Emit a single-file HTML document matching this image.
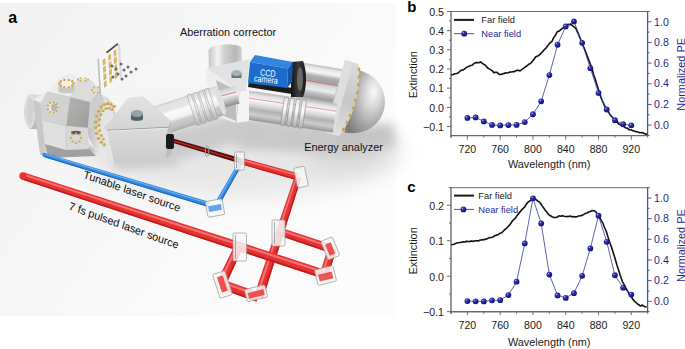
<!DOCTYPE html>
<html><head><meta charset="utf-8"><style>
html,body{margin:0;padding:0;background:#fff;}
body{width:685px;height:349px;overflow:hidden;position:relative;font-family:"Liberation Sans",sans-serif;}
svg{position:absolute;left:0;top:0;}
.tl{font-size:10.6px;fill:#1a1a1a;}
.tr{font-size:10.6px;fill:#1f1f8f;}
.al{font-size:10.9px;fill:#1a1a1a;}
.lg{font-size:9.3px;fill:#1a1a1a;}
.pl{font-size:15px;font-weight:bold;fill:#000;}
</style></head><body>
<svg width="685" height="349" viewBox="0 0 685 349">
<defs>
<radialGradient id="gm" cx="0.35" cy="0.32" r="0.75">
<stop offset="0" stop-color="#d0d0f4"/><stop offset="0.22" stop-color="#3a3ab4"/><stop offset="0.6" stop-color="#1e1e98"/><stop offset="1" stop-color="#101068"/>
</radialGradient>
<g id="mk"><circle r="2.9" fill="url(#gm)"/></g>
</defs>
<defs>
<linearGradient id="bg" x1="0" y1="0" x2="1" y2="0.6">
 <stop offset="0" stop-color="#f2f2f2"/><stop offset="0.45" stop-color="#f6f6f6"/><stop offset="0.75" stop-color="#fafafa"/><stop offset="1" stop-color="#fcfcfc"/>
</linearGradient>
<filter id="blur4" x="-50%" y="-50%" width="200%" height="200%"><feGaussianBlur stdDeviation="5"/></filter>
<filter id="blur2" x="-50%" y="-50%" width="200%" height="200%"><feGaussianBlur stdDeviation="2"/></filter>
<filter id="blur1" x="-50%" y="-50%" width="200%" height="200%"><feGaussianBlur stdDeviation="0.7"/></filter>
<linearGradient id="tubeA" x1="0.42" y1="0" x2="0.58" y2="1">
 <stop offset="0" stop-color="#cfcfcf"/><stop offset="0.18" stop-color="#f4f4f4"/><stop offset="0.4" stop-color="#fbfbfb"/><stop offset="0.62" stop-color="#c9c9c9"/><stop offset="0.82" stop-color="#a9a9a9"/><stop offset="1" stop-color="#8a8a8a"/>
</linearGradient>
<linearGradient id="tubeB" x1="0" y1="0" x2="0.12" y2="1">
 <stop offset="0" stop-color="#dcdcdc"/><stop offset="0.2" stop-color="#f6f6f6"/><stop offset="0.42" stop-color="#c2c2c2"/><stop offset="0.6" stop-color="#e8e8e8"/><stop offset="0.85" stop-color="#b0b0b0"/><stop offset="1" stop-color="#8c8c8c"/>
</linearGradient>
<linearGradient id="body" x1="0" y1="0" x2="0" y2="1">
 <stop offset="0" stop-color="#bcbcbc"/><stop offset="0.05" stop-color="#e6e6e6"/><stop offset="0.12" stop-color="#f6f6f6"/><stop offset="0.19" stop-color="#b0b0b0"/><stop offset="0.26" stop-color="#a2a2a2"/><stop offset="0.33" stop-color="#d6d6d6"/><stop offset="0.42" stop-color="#ececec"/><stop offset="0.47" stop-color="#c4c4c4"/><stop offset="0.56" stop-color="#9c9c9c"/><stop offset="0.66" stop-color="#e6e6e6"/><stop offset="0.74" stop-color="#f0f0f0"/><stop offset="0.82" stop-color="#bdbdbd"/><stop offset="0.92" stop-color="#a8a8a8"/><stop offset="1" stop-color="#969696"/>
</linearGradient>
<radialGradient id="dome" cx="0.62" cy="0.3" r="0.8">
 <stop offset="0" stop-color="#fafafa"/><stop offset="0.3" stop-color="#d8d8d8"/><stop offset="0.65" stop-color="#a8a8a8"/><stop offset="1" stop-color="#7c7c7c"/>
</radialGradient>
<linearGradient id="flange" x1="0" y1="0" x2="0" y2="1">
 <stop offset="0" stop-color="#dcdcdc"/><stop offset="0.5" stop-color="#c6c6c6"/><stop offset="1" stop-color="#e0e0e0"/>
</linearGradient>
<linearGradient id="vcyl" x1="0" y1="0" x2="1" y2="0">
 <stop offset="0" stop-color="#c4c4c4"/><stop offset="0.28" stop-color="#f4f4f4"/><stop offset="0.45" stop-color="#d2d2d2"/><stop offset="0.8" stop-color="#b8b8b8"/><stop offset="1" stop-color="#d0d0d0"/>
</linearGradient>
<linearGradient id="stub" x1="0" y1="0" x2="0" y2="1">
 <stop offset="0" stop-color="#dcdcdc"/><stop offset="0.45" stop-color="#cfcfcf"/><stop offset="1" stop-color="#b4b4b4"/>
</linearGradient>
<linearGradient id="ccdF" x1="0" y1="0" x2="0" y2="1">
 <stop offset="0" stop-color="#2d7fd8"/><stop offset="1" stop-color="#1b66bc"/>
</linearGradient>
<linearGradient id="ring" x1="0" y1="0" x2="1" y2="0">
 <stop offset="0" stop-color="#141414"/><stop offset="0.5" stop-color="#3c3c3c"/><stop offset="1" stop-color="#181818"/>
</linearGradient>
<linearGradient id="chC" x1="0" y1="0" x2="1" y2="1">
 <stop offset="0" stop-color="#b4b4b4"/><stop offset="1" stop-color="#9c9c9c"/>
</linearGradient>
<linearGradient id="ringG" x1="0" y1="0" x2="1" y2="0">
 <stop offset="0" stop-color="#b8b8b8"/><stop offset="0.5" stop-color="#e6e6e6"/><stop offset="1" stop-color="#c8c8c8"/>
</linearGradient>
<linearGradient id="blkF" x1="0" y1="0" x2="0" y2="1">
 <stop offset="0" stop-color="#dcdcdc"/><stop offset="1" stop-color="#cbcbcb"/>
</linearGradient>
<linearGradient id="blkT" x1="0" y1="0" x2="0" y2="1">
 <stop offset="0" stop-color="#e2e2e2"/><stop offset="1" stop-color="#d4d4d4"/>
</linearGradient>
<linearGradient id="tubeV" x1="0" y1="0" x2="0" y2="1">
 <stop offset="0" stop-color="#b8b8b8"/><stop offset="0.12" stop-color="#e2e2e2"/><stop offset="0.3" stop-color="#f8f8f8"/><stop offset="0.48" stop-color="#d6d6d6"/><stop offset="0.62" stop-color="#b2b2b2"/><stop offset="0.8" stop-color="#cdcdcd"/><stop offset="1" stop-color="#969696"/>
</linearGradient>
<linearGradient id="ribG" x1="0" y1="0" x2="0" y2="1">
 <stop offset="0" stop-color="#e8e8e8"/><stop offset="0.4" stop-color="#fcfcfc"/><stop offset="0.7" stop-color="#d0d0d0"/><stop offset="1" stop-color="#b0b0b0"/>
</linearGradient>
<linearGradient id="tubeW" x1="0" y1="0" x2="0" y2="1">
 <stop offset="0" stop-color="#cdcdcd"/><stop offset="0.08" stop-color="#e2e2e2"/><stop offset="0.28" stop-color="#e6e6e6"/><stop offset="0.36" stop-color="#fafafa"/><stop offset="0.6" stop-color="#f2f2f2"/><stop offset="0.7" stop-color="#cbcbcb"/><stop offset="0.86" stop-color="#c2c2c2"/><stop offset="1" stop-color="#acacac"/>
</linearGradient>
<linearGradient id="ribW" x1="0" y1="0" x2="0" y2="1">
 <stop offset="0" stop-color="#d8d8d8"/><stop offset="0.3" stop-color="#fafafa"/><stop offset="0.65" stop-color="#dcdcdc"/><stop offset="1" stop-color="#b4b4b4"/>
</linearGradient>
<linearGradient id="tubeD" x1="0" y1="0" x2="0" y2="1">
 <stop offset="0" stop-color="#d0d0d0"/><stop offset="0.4" stop-color="#f0f0f0"/><stop offset="1" stop-color="#8e8e8e"/>
</linearGradient>
</defs>
<rect x="0" y="3" width="396" height="313" fill="url(#bg)"/>

<!-- floor shadows -->
<filter id="blur10" x="-50%" y="-50%" width="200%" height="200%"><feGaussianBlur stdDeviation="12"/></filter>
<g filter="url(#blur10)">
 <ellipse cx="240" cy="150" rx="160" ry="45" fill="#e6e6e6"/>
 <ellipse cx="350" cy="150" rx="45" ry="22" fill="#d6d6d6"/>
</g>
<g filter="url(#blur4)">
 <polygon points="230,116 300,124 350,128 392,124 396,146 350,154 300,152 236,148" fill="#c8c8c8"/>
 <polygon points="160,132 232,116 244,140 200,154 168,162" fill="#cbcbcb"/>
 <polygon points="108,156 170,150 178,166 118,170" fill="#cccccc"/>
 <polygon points="330,126 385,126 390,140 340,146" fill="#c4c4c4"/>
</g>
<g filter="url(#blur2)">
 <polygon points="46,141 90,147 98,152 50,153" fill="#a4a4a4"/>
</g>

<!-- energy analyzer dome -->
<g transform="rotate(10 356 102)">
<path d="M350,70 C371,70 385,85 385,102 C385,120 371,134 350,134 Z" fill="url(#dome)"/>
</g>
<!-- analyzer body -->
<g transform="translate(297,91) rotate(9.5)">
 <rect x="0" y="-29" width="48" height="59" fill="url(#body)"/>
 <line x1="4" y1="-12" x2="48" y2="-12" stroke="#d04848" stroke-width="0.7" opacity="0.8"/>
 <line x1="4" y1="18" x2="48" y2="18" stroke="#d04848" stroke-width="0.7" opacity="0.8"/>
</g>
<!-- flange -->
<g transform="rotate(15 345 99) translate(-2,0)">
 <ellipse cx="347" cy="99" rx="11" ry="37.5" fill="#c6c6c6"/>
 <path d="M337,61.5 L351,61.5 C356,75 358,88 358,99 C358,110 356,123 351,136.5 L337,136.5 Z" fill="url(#flange)"/>
 <rect x="337" y="61.5" width="8" height="75" fill="#dedede"/>
 <g fill="#d0a33a">
 <rect x="351.5" y="65" width="2.4" height="3.2"/><rect x="353.5" y="72.5" width="2.4" height="3.2"/><rect x="355" y="80" width="2.4" height="3.2"/>
 <rect x="356" y="88" width="2.4" height="3.2"/><rect x="356.3" y="96" width="2.4" height="3.2"/><rect x="356" y="104" width="2.4" height="3.2"/>
 <rect x="355" y="112" width="2.4" height="3.2"/><rect x="353.8" y="119.5" width="2.4" height="3.2"/><rect x="352" y="127" width="2.4" height="3.2"/>
 </g>
</g>

<!-- lower tube from corrector to analyzer -->
<g transform="translate(244,104.5) rotate(8.5)">
 <rect x="0" y="-14.5" width="92" height="29" fill="url(#tubeV)"/>
 <line x1="4" y1="-7" x2="92" y2="-7" stroke="#d04848" stroke-width="0.6" opacity="0.8"/>
 <g fill="url(#ribG)" stroke="#8a8a8a" stroke-width="0.6">
  <rect x="39" y="-13" width="4.2" height="28" rx="0.8"/><rect x="45" y="-13" width="4.2" height="28" rx="0.8"/>
  <rect x="51" y="-13" width="4.2" height="28" rx="0.8"/><rect x="57" y="-13" width="4.2" height="28" rx="0.8"/>
 </g>
</g>

<!-- black rod + ring -->
<polygon points="249,81 299,89 298,95 248,87" fill="#1c1c1c"/>
<path d="M291,62 L303,61 C307,70 307,88 303,97 L291,97 Z" fill="url(#ring)"/>
<ellipse cx="300" cy="79" rx="3" ry="12" fill="#6a6a6a"/>

<!-- CCD camera -->
<polygon points="255,55 293,62 288,68.5 250,62" fill="#3286de"/>
<polygon points="250,62 288,68.5 287,88 248,83" fill="#1c6ccb"/>
<polygon points="288,68.5 293,62 292,82 287,88" fill="#1756a6"/>
<g fill="#fff" style="font-size:7.2px" text-anchor="middle">
 <text transform="translate(267.5,76.3) rotate(6.5) scale(1,1.3)">CCD</text>
 <text transform="translate(265.6,82.6) rotate(6.5) scale(1,1.3)">camera</text>
</g>

<!-- aberration corrector: vertical cylinder -->
<path d="M208.5,50 C209,44 240,42 241.5,48 L242,70 L209,72 Z" fill="url(#vcyl)"/>

<!-- corrector block -->
<polygon points="207,68 250,59 246,91 239,92" fill="#e2e2e2"/>
<polygon points="207,68 239,92 236,123 222,118 210,96 205,76" fill="#eeeeee"/>
<polygon points="239,92 246,91 249,88 249,121 236,123" fill="#f4f4f4"/>
<line x1="239" y1="92" x2="236" y2="123" stroke="#c8c8c8" stroke-width="0.8"/>
<!-- cap -->
<rect x="231.5" y="73" width="10" height="5" fill="#6a787e"/>
<ellipse cx="236.5" cy="73" rx="5" ry="3" fill="#a6b2b8"/>

<!-- tube block -> corrector -->
<polygon points="216,80 236,90 236,121 224,116" fill="#bdbdbd"/>
<g transform="translate(214,101) rotate(-15)">
 <rect x="0" y="-9" width="24" height="18" fill="url(#tubeD)"/>
 <line x1="0" y1="-3" x2="24" y2="-3" stroke="#c84848" stroke-width="0.6"/>
</g>
<g transform="translate(150,123.5) rotate(-18)">
 <rect x="0" y="-15" width="74" height="30" fill="url(#tubeW)"/>
 <ellipse cx="74" cy="0" rx="3" ry="15" fill="#e0e0e0"/>
 <g fill="url(#ribW)" stroke="#a0a0a0" stroke-width="0.5">
  <rect x="44" y="-15.5" width="4.2" height="32"/><rect x="50" y="-15.5" width="4.2" height="32"/>
  <rect x="56" y="-15.5" width="4.2" height="32"/><rect x="62" y="-15.5" width="4.2" height="32"/>
 </g>
</g>

<!-- ring between chamber and block -->
<ellipse cx="101" cy="122" rx="15" ry="27" fill="url(#ringG)"/>
<ellipse cx="106" cy="123" rx="9" ry="19" fill="#e4e4e4"/>

<!-- left cylinder stub & plate -->
<path d="M42,95 L31,94 C22,97 22,126 31,129 L42,129 Z" fill="url(#stub)"/>
<ellipse cx="30" cy="111.5" rx="5.5" ry="17" fill="#dedede"/>
<ellipse cx="30" cy="111.5" rx="3.5" ry="14" fill="#d2d2d2"/>
<polygon points="33,100 45,92.5 49,94.5 41,103" fill="#ececec"/>
<polygon points="33,100 41,103 46,155 40,155" fill="#c8c8c8"/>
<polygon points="41,103 49,94.5 49,150 46,155" fill="#dcdcdc"/>

<!-- chamber -->
<polygon points="45,144 66,150 89,149 96,156 48,158" fill="#a0a0a0"/>
<polygon points="47,92 60,77 70,73 78,78 70,97" fill="#ededed"/>
<polygon points="70,97 78,78 91,80 100,90 90,102" fill="#dcdcdc"/>
<polygon points="40,104 47,92 70,97 66,126 42,120" fill="#d2d2d2"/>
<polygon points="70,97 90,102 88,128 66,126" fill="url(#chC)"/>
<polygon points="90,102 100,90 104,100 99,127 88,128" fill="#cdcdcd"/>
<polygon points="42,120 66,126 66,150 45,144" fill="#e0e0e0"/>
<polygon points="66,126 88,128 89,149 66,150" fill="#d8d8d8"/>
<g stroke="#c4c4c4" stroke-width="0.6" fill="none">
 <polyline points="47,92 70,97 90,102"/><polyline points="42,120 66,126 88,128"/><line x1="70" y1="97" x2="66" y2="126"/><line x1="66" y1="126" x2="66" y2="150"/>
</g>
<!-- ports -->
<path d="M58.5,83.5 L58.5,91 C58.5,94 74.5,94 74.5,91 L74.5,83.5 Z" fill="#c8c8c8"/>
<ellipse cx="66.5" cy="83.5" rx="8" ry="4.5" fill="#f0f0f0"/>
<g fill="#d3a53c"><circle cx="73.5" cy="83.5" r="1.2"/><circle cx="72.2" cy="85.7" r="1.2"/><circle cx="68.7" cy="87.1" r="1.2"/><circle cx="64.3" cy="87.1" r="1.2"/><circle cx="60.8" cy="85.7" r="1.2"/><circle cx="59.5" cy="83.5" r="1.2"/><circle cx="60.8" cy="81.3" r="1.2"/><circle cx="64.3" cy="79.9" r="1.2"/><circle cx="68.7" cy="79.9" r="1.2"/><circle cx="72.2" cy="81.3" r="1.2"/></g>
<g fill="#d3a53c"><circle cx="88.0" cy="79.5" r="0.9"/><circle cx="85.5" cy="80.9" r="0.9"/><circle cx="80.5" cy="80.9" r="0.9"/><circle cx="78.0" cy="79.5" r="0.9"/><circle cx="80.5" cy="78.1" r="0.9"/><circle cx="85.5" cy="78.1" r="0.9"/><circle cx="100.0" cy="90.0" r="0.9"/><circle cx="98.0" cy="92.6" r="0.9"/><circle cx="94.0" cy="92.6" r="0.9"/><circle cx="92.0" cy="90.0" r="0.9"/><circle cx="94.0" cy="87.4" r="0.9"/><circle cx="98.0" cy="87.4" r="0.9"/></g>
<ellipse cx="52.7" cy="107.5" rx="5.8" ry="6" fill="#e6e6e6"/>
<ellipse cx="54" cy="107.5" rx="3" ry="4" fill="#b8b8b8"/>
<g fill="#d3a53c"><circle cx="57.7" cy="107.5" r="1.1"/><circle cx="56.5" cy="110.8" r="1.1"/><circle cx="53.6" cy="112.6" r="1.1"/><circle cx="50.2" cy="112.0" r="1.1"/><circle cx="48.0" cy="109.3" r="1.1"/><circle cx="48.0" cy="105.7" r="1.1"/><circle cx="50.2" cy="103.0" r="1.1"/><circle cx="53.6" cy="102.4" r="1.1"/><circle cx="56.5" cy="104.2" r="1.1"/></g>
<g fill="#c7a558" opacity="0.75"><circle cx="81.3" cy="115.5" r="0.9"/><circle cx="79.5" cy="119.3" r="0.9"/><circle cx="75.4" cy="120.2" r="0.9"/><circle cx="72.2" cy="117.6" r="0.9"/><circle cx="72.2" cy="113.4" r="0.9"/><circle cx="75.4" cy="110.8" r="0.9"/><circle cx="79.5" cy="111.7" r="0.9"/></g>
<ellipse cx="76" cy="132.5" rx="5" ry="1.8" fill="#555"/>
<g fill="#d3a53c"><circle cx="81.0" cy="138.0" r="1.1"/><circle cx="79.5" cy="141.5" r="1.1"/><circle cx="76.0" cy="143.0" r="1.1"/><circle cx="72.5" cy="141.5" r="1.1"/><circle cx="71.0" cy="138.0" r="1.1"/><circle cx="72.5" cy="134.5" r="1.1"/><circle cx="76.0" cy="133.0" r="1.1"/><circle cx="79.5" cy="134.5" r="1.1"/></g>
<!-- gold pins on ring -->
<g fill="#c89a3a"><ellipse cx="111.2" cy="144.8" rx="1.72" ry="1.50"/><ellipse cx="107.8" cy="145.5" rx="1.72" ry="1.50"/><ellipse cx="104.3" cy="144.6" rx="1.72" ry="1.50"/><ellipse cx="101.2" cy="142.1" rx="1.72" ry="1.50"/><ellipse cx="98.5" cy="138.2" rx="1.72" ry="1.50"/><ellipse cx="96.6" cy="133.3" rx="1.72" ry="1.50"/><ellipse cx="95.6" cy="127.6" rx="1.72" ry="1.50"/><ellipse cx="95.6" cy="121.8" rx="1.72" ry="1.50"/><ellipse cx="96.5" cy="116.1" rx="1.72" ry="1.50"/><ellipse cx="98.4" cy="111.1" rx="1.72" ry="1.50"/><ellipse cx="101.0" cy="107.1" rx="1.72" ry="1.50"/><ellipse cx="104.1" cy="104.6" rx="1.72" ry="1.50"/><ellipse cx="107.5" cy="103.5" rx="1.72" ry="1.50"/><ellipse cx="111.0" cy="104.1" rx="1.72" ry="1.50"/><ellipse cx="114.2" cy="106.3" rx="1.72" ry="1.50"/><ellipse cx="109.6" cy="140.7" rx="1.49" ry="1.30"/><ellipse cx="106.5" cy="140.8" rx="1.49" ry="1.30"/><ellipse cx="103.6" cy="138.9" rx="1.49" ry="1.30"/><ellipse cx="101.2" cy="135.4" rx="1.49" ry="1.30"/><ellipse cx="99.6" cy="130.6" rx="1.49" ry="1.30"/><ellipse cx="99.0" cy="125.2" rx="1.49" ry="1.30"/><ellipse cx="99.4" cy="119.6" rx="1.49" ry="1.30"/><ellipse cx="100.8" cy="114.6" rx="1.49" ry="1.30"/><ellipse cx="103.0" cy="110.8" rx="1.49" ry="1.30"/><ellipse cx="105.8" cy="108.5" rx="1.49" ry="1.30"/><ellipse cx="108.9" cy="108.1" rx="1.49" ry="1.30"/><ellipse cx="111.8" cy="109.5" rx="1.49" ry="1.30"/></g>
<g fill="#f2dc9a"><circle cx="110.8" cy="144.3" r="0.60"/><circle cx="107.4" cy="145.0" r="0.60"/><circle cx="103.9" cy="144.1" r="0.60"/><circle cx="100.8" cy="141.6" r="0.60"/><circle cx="98.1" cy="137.7" r="0.60"/><circle cx="96.2" cy="132.8" r="0.60"/><circle cx="95.2" cy="127.1" r="0.60"/><circle cx="95.2" cy="121.3" r="0.60"/><circle cx="96.1" cy="115.6" r="0.60"/><circle cx="98.0" cy="110.6" r="0.60"/><circle cx="100.6" cy="106.6" r="0.60"/><circle cx="103.7" cy="104.1" r="0.60"/><circle cx="107.1" cy="103.0" r="0.60"/><circle cx="110.6" cy="103.6" r="0.60"/><circle cx="113.8" cy="105.8" r="0.60"/><circle cx="109.2" cy="140.2" r="0.52"/><circle cx="106.1" cy="140.3" r="0.52"/><circle cx="103.2" cy="138.4" r="0.52"/><circle cx="100.8" cy="134.9" r="0.52"/><circle cx="99.2" cy="130.1" r="0.52"/><circle cx="98.6" cy="124.7" r="0.52"/><circle cx="99.0" cy="119.1" r="0.52"/><circle cx="100.4" cy="114.1" r="0.52"/><circle cx="102.6" cy="110.3" r="0.52"/><circle cx="105.4" cy="108.0" r="0.52"/><circle cx="108.5" cy="107.6" r="0.52"/><circle cx="111.4" cy="109.0" r="0.52"/></g>

<!-- sample plate -->
<polygon points="99,58 117.5,43 120,77 101,93" fill="#f6f6f6"/>
<polygon points="97.5,59 99,58 101,93 99.5,94" fill="#bdbdbd"/>
<polygon points="117.5,43 120,44 122,78 120,77" fill="#dadada"/>
<polygon points="106,52 117.5,43 118.3,44.5 107,53.5" fill="#4a4a4a"/>
<g fill="#d4b66c"><polygon points="102.5,60.1 105.3,57.9 105.6,63.8 102.8,66.0"/><polygon points="102.9,67.5 105.7,65.2 106.0,71.2 103.3,73.4"/><polygon points="103.3,74.8 106.1,72.5 106.5,78.5 103.7,80.8"/><polygon points="103.8,82.2 106.5,79.9 106.9,85.8 104.1,88.1"/><polygon points="108.1,55.6 110.8,53.4 111.2,59.3 108.4,61.5"/><polygon points="108.5,63.0 111.3,60.7 111.6,66.7 108.8,68.9"/><polygon points="108.9,70.3 111.7,68.0 112.0,74.0 109.2,76.2"/><polygon points="109.3,77.7 112.1,75.4 112.4,81.3 109.7,83.6"/><polygon points="113.4,51.2 116.2,49.0 116.5,54.9 113.8,57.2"/><polygon points="113.8,58.6 116.6,56.3 117.0,62.3 114.2,64.5"/><polygon points="114.3,66.0 117.0,63.7 117.4,69.7 114.6,71.9"/><polygon points="114.7,73.3 117.5,71.0 117.8,77.0 115.0,79.2"/></g>
<g fill="#6a6a6a"><circle cx="112" cy="66" r="1.5"/><circle cx="116" cy="69" r="1.5"/><circle cx="121" cy="64" r="1.5"/><circle cx="124" cy="70" r="1.5"/><circle cx="118" cy="74" r="1.5"/><circle cx="128" cy="67" r="1.5"/><circle cx="131" cy="72" r="1.5"/><circle cx="126" cy="76" r="1.5"/><circle cx="113" cy="77" r="1.5"/><circle cx="136" cy="69" r="1.5"/><circle cx="122" cy="79" r="1.5"/></g>

<!-- middle block -->
<polygon points="104,128 128,98 143,96 171,121 168,127 107,130" fill="url(#blkT)"/>
<polygon points="107,130 168,127 166,158 114,163" fill="url(#blkF)"/>
<polygon points="103,129 107,130 114,163 108,159" fill="#e4e4e4"/>
<polygon points="168,127 171,121 172,154 166,158" fill="#bdbdbd"/>
<line x1="107" y1="130.3" x2="168" y2="127.3" stroke="#8e8e8e" stroke-width="0.8"/><line x1="107" y1="131.3" x2="168" y2="128.3" stroke="#ececec" stroke-width="0.8"/>
<path d="M131,113.5 L131,119 C131,121.5 143,121.5 143,119 L143,113.5 Z" fill="#52606a"/>
<ellipse cx="137" cy="113.5" rx="6" ry="3.6" fill="#94a2a8"/>
<rect x="166" y="134" width="8" height="15" rx="2" fill="#1a1a1a"/>

<!-- lasers -->
<polygon points="44.91,152.89 209.72,202.11 208.28,206.89 43.69,156.91" fill="#348ae2"/>
<polygon points="44.69,153.61 209.46,202.97 209.12,204.12 44.40,154.58" fill="#6fb0f4"/>
<polygon points="43.94,156.11 208.57,205.94 208.28,206.89 43.69,156.91" fill="#2264b4"/>
<circle cx="44.3" cy="154.9" r="2.10" fill="#348ae2"/>
<polygon points="216.83,199.26 238.59,161.91 242.41,164.09 221.17,201.74" fill="#348ae2"/>
<polygon points="217.61,199.70 239.28,162.30 240.19,162.82 218.65,200.30" fill="#6fb0f4"/>
<polygon points="220.30,201.25 241.65,163.66 242.41,164.09 221.17,201.74" fill="#2264b4"/>
<polygon points="174,138.8 241,158.3 241,163.7 174,143.2" fill="#4a1010"/>
<line x1="174" y1="141" x2="241" y2="161" stroke="#c42020" stroke-width="1.4"/>
<polygon points="241.86,157.92 297.91,173.32 296.09,179.88 240.14,164.08" fill="#e63232"/>
<polygon points="241.55,159.03 297.58,174.50 297.15,176.08 241.14,160.51" fill="#f57272"/>
<polygon points="240.48,162.85 296.45,178.57 296.09,179.88 240.14,164.08" fill="#c21d1d"/>
<polygon points="294.77,175.94 254.04,295.53 262.96,298.47 301.23,178.06" fill="#e63232"/>
<polygon points="295.93,176.32 255.64,296.06 257.79,296.76 297.48,176.83" fill="#f57272"/>
<polygon points="299.94,177.64 261.18,297.88 262.96,298.47 301.23,178.06" fill="#c21d1d"/>
<polygon points="24.15,172.48 323.43,269.13 320.57,277.87 21.85,179.52" fill="#e63232"/>
<polygon points="23.73,173.75 322.91,270.70 322.23,272.80 23.18,175.44" fill="#f57272"/>
<polygon points="22.31,178.11 321.14,276.12 320.57,277.87 21.85,179.52" fill="#c21d1d"/>
<circle cx="23" cy="176" r="3.70" fill="#e63232"/>
<polygon points="235.11,244.16 216.75,281.99 225.25,286.01 242.89,247.84" fill="#e63232"/>
<polygon points="236.51,244.82 218.28,282.71 220.32,283.68 238.38,245.71" fill="#f57272"/>
<polygon points="241.33,247.10 223.55,285.21 225.25,286.01 242.89,247.84" fill="#c21d1d"/>
<polygon points="222.56,279.57 259.62,292.38 256.38,301.62 219.44,288.43" fill="#e63232"/>
<polygon points="222.00,281.16 259.04,294.04 258.26,296.26 221.25,283.29" fill="#f57272"/>
<polygon points="220.07,286.66 257.03,299.77 256.38,301.62 219.44,288.43" fill="#c21d1d"/>
<polygon points="279.26,227.21 333.36,244.92 330.64,253.08 276.74,234.79" fill="#e63232"/>
<polygon points="278.81,228.57 332.87,246.39 332.22,248.35 278.20,230.39" fill="#f57272"/>
<polygon points="277.24,233.28 331.18,251.45 330.64,253.08 276.74,234.79" fill="#c21d1d"/>
<polygon points="327.99,247.76 319.79,273.71 328.21,276.29 336.01,250.24" fill="#e63232"/>
<polygon points="329.43,248.21 321.31,274.17 323.33,274.79 331.36,248.80" fill="#f57272"/>
<polygon points="334.41,249.74 326.52,275.78 328.21,276.29 336.01,250.24" fill="#c21d1d"/>
<!-- iris -->
<ellipse cx="207" cy="151" rx="1.8" ry="5.5" fill="none" stroke="#999" stroke-width="1"/>
<!-- mirrors -->
<g fill="#f6f6f6" stroke="#9a9a9a" stroke-width="0.7" fill-opacity="0.85">
 <rect x="234.5" y="152" width="10" height="18" rx="1.5"/>
 <rect x="295.5" y="167" width="11" height="20" rx="1.5" transform="rotate(-12 301 177)"/>
 <rect x="272" y="220" width="13" height="26" rx="1.5"/>
 <rect x="233" y="233" width="13.5" height="28" rx="1.5"/>
 <rect x="206.5" y="200" width="17" height="16" rx="1.5" transform="rotate(-10 215 208)"/>
 <rect x="216" y="272" width="13" height="25" rx="1.5" transform="rotate(-18 222.5 284.5)"/>
 <rect x="245.5" y="287" width="21" height="12.5" rx="1.5" transform="rotate(-14 256 293)"/>
 <rect x="324" y="238.5" width="12.5" height="20" rx="1.5" transform="rotate(-22 330 248.5)"/>
 <rect x="316" y="267.5" width="19" height="16" rx="1.5" transform="rotate(-14 325.5 275.5)"/>
</g>
<g fill="#ea3a3a" opacity="0.85">
 <rect x="219.5" y="276" width="6" height="16" transform="rotate(-18 222.5 284.5)"/>
 <rect x="248" y="291" width="16" height="6" transform="rotate(-14 256 293)"/>
 <rect x="318.5" y="273" width="14" height="7" transform="rotate(-14 325.5 275.5)"/>
 <rect x="327" y="243" width="6" height="12" transform="rotate(-22 330 248.5)"/>
</g>
<rect x="208.5" y="205" width="13" height="6" fill="#4a94e8" opacity="0.85" transform="rotate(-10 215 208)"/>
<g stroke="#777" stroke-width="0.6" fill="none">
 <line x1="236.5" y1="154" x2="236.5" y2="168"/><line x1="274.5" y1="222" x2="274.5" y2="244"/><line x1="235.5" y1="235" x2="235.5" y2="259"/>
</g>

<!-- labels -->
<text x="8.3" y="22.8" style="font-size:16px;font-weight:bold;fill:#000">a</text>
<text x="179.9" y="36" style="font-size:10.9px;fill:#111">Aberration corrector</text>
<text x="304.2" y="151" style="font-size:10.9px;fill:#111">Energy analyzer</text>
<text transform="translate(82.8,177.8) rotate(19.5) skewX(5)" style="font-size:11px;fill:#0a0a0a">Tunable laser source</text>
<text transform="translate(68.3,209.2) rotate(20) skewX(5)" style="font-size:11px;fill:#0a0a0a">7 fs pulsed laser source</text>

<line x1="450.5" y1="11.5" x2="647.6" y2="11.5" stroke="#6a6a6a" stroke-width="1"/>
<line x1="451.0" y1="11.0" x2="451.0" y2="137.6" stroke="#6a6a6a" stroke-width="1.4"/>
<line x1="450.5" y1="135.6" x2="647.6" y2="135.6" stroke="#6a6a6a" stroke-width="1.4"/>
<line x1="647.6" y1="11.0" x2="647.6" y2="136.1" stroke="#5050b0" stroke-width="1.3"/>
<line x1="447.0" y1="11.45" x2="451.0" y2="11.45" stroke="#6a6a6a" stroke-width="1"/>
<text x="444.0" y="15.75" text-anchor="end" class="tl">0.5</text>
<line x1="447.0" y1="30.62" x2="451.0" y2="30.62" stroke="#6a6a6a" stroke-width="1"/>
<text x="444.0" y="34.92" text-anchor="end" class="tl">0.4</text>
<line x1="447.0" y1="49.79" x2="451.0" y2="49.79" stroke="#6a6a6a" stroke-width="1"/>
<text x="444.0" y="54.09" text-anchor="end" class="tl">0.3</text>
<line x1="447.0" y1="68.96" x2="451.0" y2="68.96" stroke="#6a6a6a" stroke-width="1"/>
<text x="444.0" y="73.26" text-anchor="end" class="tl">0.2</text>
<line x1="447.0" y1="88.13" x2="451.0" y2="88.13" stroke="#6a6a6a" stroke-width="1"/>
<text x="444.0" y="92.43" text-anchor="end" class="tl">0.1</text>
<line x1="447.0" y1="107.30" x2="451.0" y2="107.30" stroke="#6a6a6a" stroke-width="1"/>
<text x="444.0" y="111.60" text-anchor="end" class="tl">0.0</text>
<line x1="447.0" y1="126.47" x2="451.0" y2="126.47" stroke="#6a6a6a" stroke-width="1"/>
<text x="444.0" y="130.77" text-anchor="end" class="tl">−0.1</text>
<line x1="449.0" y1="21.03" x2="451.0" y2="21.03" stroke="#6a6a6a" stroke-width="1"/>
<line x1="449.0" y1="40.20" x2="451.0" y2="40.20" stroke="#6a6a6a" stroke-width="1"/>
<line x1="449.0" y1="59.38" x2="451.0" y2="59.38" stroke="#6a6a6a" stroke-width="1"/>
<line x1="449.0" y1="78.55" x2="451.0" y2="78.55" stroke="#6a6a6a" stroke-width="1"/>
<line x1="449.0" y1="97.72" x2="451.0" y2="97.72" stroke="#6a6a6a" stroke-width="1"/>
<line x1="449.0" y1="116.88" x2="451.0" y2="116.88" stroke="#6a6a6a" stroke-width="1"/>
<line x1="451.00" y1="135.6" x2="451.00" y2="137.6" stroke="#6a6a6a" stroke-width="1"/>
<line x1="467.39" y1="135.6" x2="467.39" y2="139.6" stroke="#6a6a6a" stroke-width="1"/>
<text x="467.39" y="152.6" text-anchor="middle" class="tl">720</text>
<line x1="483.78" y1="135.6" x2="483.78" y2="137.6" stroke="#6a6a6a" stroke-width="1"/>
<line x1="500.18" y1="135.6" x2="500.18" y2="139.6" stroke="#6a6a6a" stroke-width="1"/>
<text x="500.18" y="152.6" text-anchor="middle" class="tl">760</text>
<line x1="516.57" y1="135.6" x2="516.57" y2="137.6" stroke="#6a6a6a" stroke-width="1"/>
<line x1="532.96" y1="135.6" x2="532.96" y2="139.6" stroke="#6a6a6a" stroke-width="1"/>
<text x="532.96" y="152.6" text-anchor="middle" class="tl">800</text>
<line x1="549.35" y1="135.6" x2="549.35" y2="137.6" stroke="#6a6a6a" stroke-width="1"/>
<line x1="565.74" y1="135.6" x2="565.74" y2="139.6" stroke="#6a6a6a" stroke-width="1"/>
<text x="565.74" y="152.6" text-anchor="middle" class="tl">840</text>
<line x1="582.14" y1="135.6" x2="582.14" y2="137.6" stroke="#6a6a6a" stroke-width="1"/>
<line x1="598.53" y1="135.6" x2="598.53" y2="139.6" stroke="#6a6a6a" stroke-width="1"/>
<text x="598.53" y="152.6" text-anchor="middle" class="tl">880</text>
<line x1="614.92" y1="135.6" x2="614.92" y2="137.6" stroke="#6a6a6a" stroke-width="1"/>
<line x1="631.31" y1="135.6" x2="631.31" y2="139.6" stroke="#6a6a6a" stroke-width="1"/>
<text x="631.31" y="152.6" text-anchor="middle" class="tl">920</text>
<line x1="647.70" y1="135.6" x2="647.70" y2="137.6" stroke="#6a6a6a" stroke-width="1"/>
<line x1="647.6" y1="135.43" x2="649.6" y2="135.43" stroke="#5050b0" stroke-width="1"/>
<line x1="647.6" y1="125.10" x2="651.6" y2="125.10" stroke="#5050b0" stroke-width="1"/>
<text x="654.1" y="128.80" class="tr">0.0</text>
<line x1="647.6" y1="114.77" x2="649.6" y2="114.77" stroke="#5050b0" stroke-width="1"/>
<line x1="647.6" y1="104.44" x2="651.6" y2="104.44" stroke="#5050b0" stroke-width="1"/>
<text x="654.1" y="108.14" class="tr">0.2</text>
<line x1="647.6" y1="94.11" x2="649.6" y2="94.11" stroke="#5050b0" stroke-width="1"/>
<line x1="647.6" y1="83.78" x2="651.6" y2="83.78" stroke="#5050b0" stroke-width="1"/>
<text x="654.1" y="87.48" class="tr">0.4</text>
<line x1="647.6" y1="73.45" x2="649.6" y2="73.45" stroke="#5050b0" stroke-width="1"/>
<line x1="647.6" y1="63.12" x2="651.6" y2="63.12" stroke="#5050b0" stroke-width="1"/>
<text x="654.1" y="66.82" class="tr">0.6</text>
<line x1="647.6" y1="52.79" x2="649.6" y2="52.79" stroke="#5050b0" stroke-width="1"/>
<line x1="647.6" y1="42.46" x2="651.6" y2="42.46" stroke="#5050b0" stroke-width="1"/>
<text x="654.1" y="46.16" class="tr">0.8</text>
<line x1="647.6" y1="32.13" x2="649.6" y2="32.13" stroke="#5050b0" stroke-width="1"/>
<line x1="647.6" y1="21.80" x2="651.6" y2="21.80" stroke="#5050b0" stroke-width="1"/>
<text x="654.1" y="25.50" class="tr">1.0</text>
<line x1="647.6" y1="11.47" x2="649.6" y2="11.47" stroke="#5050b0" stroke-width="1"/>
<text transform="translate(417.3,74.7) rotate(-90)" text-anchor="middle" class="al">Extinction</text>
<text transform="translate(685.2,74.4) rotate(-90)" text-anchor="middle" class="al" style="fill:#1f1f8f">Normalized PE</text>
<text x="549.2" y="167.8" text-anchor="middle" class="al">Wavelength (nm)</text>
<text x="407.3" y="11.6" class="pl">b</text>
<line x1="454" y1="19.9" x2="474" y2="19.9" stroke="#1a1a1a" stroke-width="2"/>
<text x="481.3" y="22.8" class="lg">Far field</text>
<line x1="454" y1="33.7" x2="474" y2="33.7" stroke="#1f1f8f" stroke-width="0.8"/>
<use href="#mk" x="464.2" y="33.7"/>
<text x="481.3" y="36.6" class="lg" style="fill:#1f1f8f">Near field</text>
<path d="M451.20,74.86 L452.95,74.54 L454.70,73.78 L456.45,73.44 L458.20,72.91 L459.95,71.21 L461.70,69.96 L463.45,69.85 L465.20,68.48 L466.95,67.11 L468.70,66.45 L470.45,65.42 L472.20,65.20 L473.65,63.83 L475.10,62.93 L476.55,62.39 L478.00,62.72 L479.30,62.58 L480.60,61.92 L482.25,63.27 L483.90,64.35 L485.65,65.46 L487.40,67.73 L489.15,68.88 L490.90,69.92 L492.35,70.83 L493.80,72.73 L495.25,72.18 L496.70,72.20 L498.15,73.49 L499.60,74.49 L501.10,74.48 L502.60,73.81 L504.05,73.62 L505.50,72.75 L506.95,72.99 L508.40,72.74 L509.85,72.04 L511.30,72.07 L512.75,71.65 L514.20,71.82 L515.70,70.69 L517.20,70.21 L518.65,70.37 L520.10,71.01 L521.55,69.75 L523.00,68.57 L524.45,67.63 L525.90,66.48 L527.35,65.56 L528.80,64.16 L530.50,63.59 L531.80,61.97 L533.10,60.54 L534.40,58.70 L535.70,56.70 L537.13,56.36 L538.57,55.48 L540.00,54.46 L541.43,52.73 L542.87,51.43 L544.30,49.54 L545.73,48.43 L547.17,46.53 L548.60,44.61 L549.80,42.97 L551.00,42.25 L552.20,40.94 L553.65,37.63 L555.10,35.77 L557.20,31.82 L559.40,30.89 L560.80,29.56 L562.20,28.54 L563.65,27.59 L565.10,25.79 L566.50,25.55 L567.90,24.29 L569.35,24.70 L570.80,24.15 L572.25,25.59 L573.70,26.63 L575.80,28.30 L578.00,33.05 L580.10,38.13 L581.55,41.52 L583.00,45.59 L584.45,48.68 L585.90,52.43 L587.30,56.17 L588.70,59.90 L590.45,64.59 L592.20,69.59 L593.73,75.00 L595.27,79.17 L596.80,84.41 L598.33,89.22 L599.87,93.62 L601.40,98.56 L602.90,101.95 L604.40,105.40 L605.90,108.69 L607.35,110.63 L608.80,112.66 L610.25,114.92 L611.70,116.51 L613.12,117.99 L614.55,119.80 L615.98,120.91 L617.40,122.52 L618.83,124.11 L620.25,124.67 L621.67,125.67 L623.10,126.16 L624.48,127.18 L625.86,127.99 L627.24,128.15 L628.62,129.34 L630.00,130.02 L631.42,129.90 L632.85,130.81 L634.28,131.07 L635.70,131.66 L637.15,131.72 L638.60,132.39 L640.05,132.76 L641.50,132.47 L642.92,132.78 L644.35,133.61 L645.78,134.14 L647.20,134.00" fill="none" stroke="#111" stroke-width="1.6" stroke-linejoin="round"/>
<path d="M467.39,117.97 L475.59,117.46 L483.78,121.38 L491.98,124.89 L500.18,125.41 L508.37,125.10 L516.57,124.89 L524.76,122.10 L532.96,114.25 L541.16,101.34 L549.35,75.10 L557.55,44.73 L565.74,26.45 L573.94,21.39 L582.14,42.87 L590.33,68.18 L598.53,92.97 L606.72,109.50 L614.92,120.24 L623.12,124.17 L631.31,125.31" fill="none" stroke="#3636a6" stroke-width="0.8"/>
<use href="#mk" x="467.39" y="117.97"/>
<use href="#mk" x="475.59" y="117.46"/>
<use href="#mk" x="483.78" y="121.38"/>
<use href="#mk" x="491.98" y="124.89"/>
<use href="#mk" x="500.18" y="125.41"/>
<use href="#mk" x="508.37" y="125.10"/>
<use href="#mk" x="516.57" y="124.89"/>
<use href="#mk" x="524.76" y="122.10"/>
<use href="#mk" x="532.96" y="114.25"/>
<use href="#mk" x="541.16" y="101.34"/>
<use href="#mk" x="549.35" y="75.10"/>
<use href="#mk" x="557.55" y="44.73"/>
<use href="#mk" x="565.74" y="26.45"/>
<use href="#mk" x="573.94" y="21.39"/>
<use href="#mk" x="582.14" y="42.87"/>
<use href="#mk" x="590.33" y="68.18"/>
<use href="#mk" x="598.53" y="92.97"/>
<use href="#mk" x="606.72" y="109.50"/>
<use href="#mk" x="614.92" y="120.24"/>
<use href="#mk" x="623.12" y="124.17"/>
<use href="#mk" x="631.31" y="125.31"/>
<line x1="450.5" y1="187.7" x2="647.6" y2="187.7" stroke="#6a6a6a" stroke-width="1"/>
<line x1="451.0" y1="187.2" x2="451.0" y2="313.79999999999995" stroke="#6a6a6a" stroke-width="1.4"/>
<line x1="450.5" y1="311.79999999999995" x2="647.6" y2="311.79999999999995" stroke="#6a6a6a" stroke-width="1.4"/>
<line x1="647.6" y1="187.2" x2="647.6" y2="312.29999999999995" stroke="#5050b0" stroke-width="1.3"/>
<line x1="447.0" y1="205.26" x2="451.0" y2="205.26" stroke="#6a6a6a" stroke-width="1"/>
<text x="444.0" y="209.56" text-anchor="end" class="tl">0.2</text>
<line x1="447.0" y1="240.73" x2="451.0" y2="240.73" stroke="#6a6a6a" stroke-width="1"/>
<text x="444.0" y="245.03" text-anchor="end" class="tl">0.1</text>
<line x1="447.0" y1="276.20" x2="451.0" y2="276.20" stroke="#6a6a6a" stroke-width="1"/>
<text x="444.0" y="280.50" text-anchor="end" class="tl">0.0</text>
<line x1="447.0" y1="311.67" x2="451.0" y2="311.67" stroke="#6a6a6a" stroke-width="1"/>
<text x="444.0" y="315.97" text-anchor="end" class="tl">−0.1</text>
<line x1="449.0" y1="187.52" x2="451.0" y2="187.52" stroke="#6a6a6a" stroke-width="1"/>
<line x1="449.0" y1="223.00" x2="451.0" y2="223.00" stroke="#6a6a6a" stroke-width="1"/>
<line x1="449.0" y1="258.46" x2="451.0" y2="258.46" stroke="#6a6a6a" stroke-width="1"/>
<line x1="449.0" y1="293.94" x2="451.0" y2="293.94" stroke="#6a6a6a" stroke-width="1"/>
<line x1="451.00" y1="311.79999999999995" x2="451.00" y2="313.79999999999995" stroke="#6a6a6a" stroke-width="1"/>
<line x1="467.39" y1="311.79999999999995" x2="467.39" y2="314.99999999999994" stroke="#6a6a6a" stroke-width="1"/>
<text x="467.39" y="328.79999999999995" text-anchor="middle" class="tl">720</text>
<line x1="483.78" y1="311.79999999999995" x2="483.78" y2="313.79999999999995" stroke="#6a6a6a" stroke-width="1"/>
<line x1="500.18" y1="311.79999999999995" x2="500.18" y2="314.99999999999994" stroke="#6a6a6a" stroke-width="1"/>
<text x="500.18" y="328.79999999999995" text-anchor="middle" class="tl">760</text>
<line x1="516.57" y1="311.79999999999995" x2="516.57" y2="313.79999999999995" stroke="#6a6a6a" stroke-width="1"/>
<line x1="532.96" y1="311.79999999999995" x2="532.96" y2="314.99999999999994" stroke="#6a6a6a" stroke-width="1"/>
<text x="532.96" y="328.79999999999995" text-anchor="middle" class="tl">800</text>
<line x1="549.35" y1="311.79999999999995" x2="549.35" y2="313.79999999999995" stroke="#6a6a6a" stroke-width="1"/>
<line x1="565.74" y1="311.79999999999995" x2="565.74" y2="314.99999999999994" stroke="#6a6a6a" stroke-width="1"/>
<text x="565.74" y="328.79999999999995" text-anchor="middle" class="tl">840</text>
<line x1="582.14" y1="311.79999999999995" x2="582.14" y2="313.79999999999995" stroke="#6a6a6a" stroke-width="1"/>
<line x1="598.53" y1="311.79999999999995" x2="598.53" y2="314.99999999999994" stroke="#6a6a6a" stroke-width="1"/>
<text x="598.53" y="328.79999999999995" text-anchor="middle" class="tl">880</text>
<line x1="614.92" y1="311.79999999999995" x2="614.92" y2="313.79999999999995" stroke="#6a6a6a" stroke-width="1"/>
<line x1="631.31" y1="311.79999999999995" x2="631.31" y2="314.99999999999994" stroke="#6a6a6a" stroke-width="1"/>
<text x="631.31" y="328.79999999999995" text-anchor="middle" class="tl">920</text>
<line x1="647.70" y1="311.79999999999995" x2="647.70" y2="313.79999999999995" stroke="#6a6a6a" stroke-width="1"/>
<line x1="647.6" y1="311.63" x2="649.6" y2="311.63" stroke="#5050b0" stroke-width="1"/>
<line x1="647.6" y1="301.30" x2="651.6" y2="301.30" stroke="#5050b0" stroke-width="1"/>
<text x="654.1" y="305.00" class="tr">0.0</text>
<line x1="647.6" y1="290.97" x2="649.6" y2="290.97" stroke="#5050b0" stroke-width="1"/>
<line x1="647.6" y1="280.64" x2="651.6" y2="280.64" stroke="#5050b0" stroke-width="1"/>
<text x="654.1" y="284.34" class="tr">0.2</text>
<line x1="647.6" y1="270.31" x2="649.6" y2="270.31" stroke="#5050b0" stroke-width="1"/>
<line x1="647.6" y1="259.98" x2="651.6" y2="259.98" stroke="#5050b0" stroke-width="1"/>
<text x="654.1" y="263.68" class="tr">0.4</text>
<line x1="647.6" y1="249.65" x2="649.6" y2="249.65" stroke="#5050b0" stroke-width="1"/>
<line x1="647.6" y1="239.32" x2="651.6" y2="239.32" stroke="#5050b0" stroke-width="1"/>
<text x="654.1" y="243.02" class="tr">0.6</text>
<line x1="647.6" y1="228.99" x2="649.6" y2="228.99" stroke="#5050b0" stroke-width="1"/>
<line x1="647.6" y1="218.66" x2="651.6" y2="218.66" stroke="#5050b0" stroke-width="1"/>
<text x="654.1" y="222.36" class="tr">0.8</text>
<line x1="647.6" y1="208.33" x2="649.6" y2="208.33" stroke="#5050b0" stroke-width="1"/>
<line x1="647.6" y1="198.00" x2="651.6" y2="198.00" stroke="#5050b0" stroke-width="1"/>
<text x="654.1" y="201.70" class="tr">1.0</text>
<line x1="647.6" y1="187.67" x2="649.6" y2="187.67" stroke="#5050b0" stroke-width="1"/>
<text transform="translate(417.3,250.89999999999998) rotate(-90)" text-anchor="middle" class="al">Extinction</text>
<text transform="translate(685.2,245.6) rotate(-90)" text-anchor="middle" class="al" style="fill:#1f1f8f">Normalized PE</text>
<text x="549.2" y="346.4" text-anchor="middle" class="al">Wavelength (nm)</text>
<text x="407.3" y="191.49999999999997" class="pl">c</text>
<line x1="454" y1="195.6" x2="474" y2="195.6" stroke="#1a1a1a" stroke-width="2"/>
<text x="478.3" y="199.2" class="lg">Far field</text>
<line x1="454" y1="209.39999999999998" x2="474" y2="209.39999999999998" stroke="#1f1f8f" stroke-width="0.8"/>
<use href="#mk" x="463.4" y="209.39999999999998"/>
<text x="478.3" y="212.99999999999997" class="lg" style="fill:#1f1f8f">Near field</text>
<path d="M451.10,244.78 L452.55,244.51 L454.00,244.18 L455.45,243.49 L456.90,243.08 L458.28,242.75 L459.66,242.52 L461.04,242.45 L462.42,241.90 L463.80,241.69 L465.16,241.95 L466.52,241.17 L467.88,241.56 L469.24,241.61 L470.60,241.13 L471.98,240.97 L473.36,241.41 L474.74,240.82 L476.12,240.70 L477.50,240.84 L478.88,240.80 L480.26,239.98 L481.64,239.90 L483.02,239.63 L484.40,239.80 L485.78,239.02 L487.16,238.98 L488.54,237.94 L489.92,237.67 L491.30,237.54 L492.66,237.21 L494.02,236.28 L495.38,235.53 L496.74,234.90 L498.10,234.73 L499.55,233.45 L501.00,233.03 L502.45,232.08 L503.90,230.52 L505.32,229.10 L506.75,228.08 L508.18,226.43 L509.60,225.08 L511.02,222.96 L512.45,221.07 L513.88,219.51 L515.30,218.26 L516.75,215.94 L518.20,214.16 L519.65,212.38 L521.10,210.53 L522.85,208.62 L524.60,207.18 L526.13,204.56 L527.67,202.49 L529.20,201.40 L530.90,200.24 L532.60,199.24 L534.30,198.94 L536.00,199.61 L537.53,200.95 L539.07,201.68 L540.60,203.52 L542.13,205.90 L543.67,208.05 L545.20,210.22 L546.95,212.31 L548.70,214.66 L550.40,215.70 L552.10,216.71 L553.80,217.43 L555.50,217.41 L557.25,217.18 L559.00,215.79 L560.70,216.21 L562.40,215.67 L564.10,216.23 L565.80,216.56 L567.33,216.63 L568.87,216.40 L570.40,215.96 L571.93,216.85 L573.47,216.57 L575.00,216.92 L576.53,216.85 L578.07,216.32 L579.60,215.82 L581.13,215.76 L582.67,214.93 L584.20,214.16 L585.73,213.24 L587.27,212.96 L588.80,211.78 L590.50,211.45 L592.20,210.47 L593.90,210.78 L595.60,211.53 L596.90,213.69 L598.20,215.00 L599.50,217.46 L601.20,220.43 L602.90,223.18 L604.65,227.79 L606.40,231.66 L608.10,237.37 L609.80,242.73 L611.50,247.14 L613.20,252.49 L614.95,258.24 L616.70,264.22 L618.40,269.53 L620.10,274.98 L622.50,281.85 L624.20,284.60 L625.90,288.10 L627.65,291.16 L629.40,294.16 L631.10,296.26 L632.80,299.23 L634.55,301.27 L636.30,302.73 L637.55,304.00 L638.80,304.73 L640.60,306.03 L642.30,305.07 L643.60,306.03 L644.90,306.68 L646.60,307.10" fill="none" stroke="#111" stroke-width="1.6" stroke-linejoin="round"/>
<path d="M467.39,301.09 L475.59,301.30 L483.78,301.40 L491.98,300.37 L500.18,300.16 L508.37,295.10 L516.57,281.67 L524.76,243.45 L532.96,198.31 L541.16,223.41 L549.35,274.55 L557.55,295.41 L565.74,297.89 L573.94,293.14 L582.14,275.78 L590.33,248.41 L598.53,215.66 L606.72,241.80 L614.92,275.27 L623.12,287.66 L631.31,294.59" fill="none" stroke="#3636a6" stroke-width="0.8"/>
<use href="#mk" x="467.39" y="301.09"/>
<use href="#mk" x="475.59" y="301.30"/>
<use href="#mk" x="483.78" y="301.40"/>
<use href="#mk" x="491.98" y="300.37"/>
<use href="#mk" x="500.18" y="300.16"/>
<use href="#mk" x="508.37" y="295.10"/>
<use href="#mk" x="516.57" y="281.67"/>
<use href="#mk" x="524.76" y="243.45"/>
<use href="#mk" x="532.96" y="198.31"/>
<use href="#mk" x="541.16" y="223.41"/>
<use href="#mk" x="549.35" y="274.55"/>
<use href="#mk" x="557.55" y="295.41"/>
<use href="#mk" x="565.74" y="297.89"/>
<use href="#mk" x="573.94" y="293.14"/>
<use href="#mk" x="582.14" y="275.78"/>
<use href="#mk" x="590.33" y="248.41"/>
<use href="#mk" x="598.53" y="215.66"/>
<use href="#mk" x="606.72" y="241.80"/>
<use href="#mk" x="614.92" y="275.27"/>
<use href="#mk" x="623.12" y="287.66"/>
<use href="#mk" x="631.31" y="294.59"/>
</svg>
</body></html>
